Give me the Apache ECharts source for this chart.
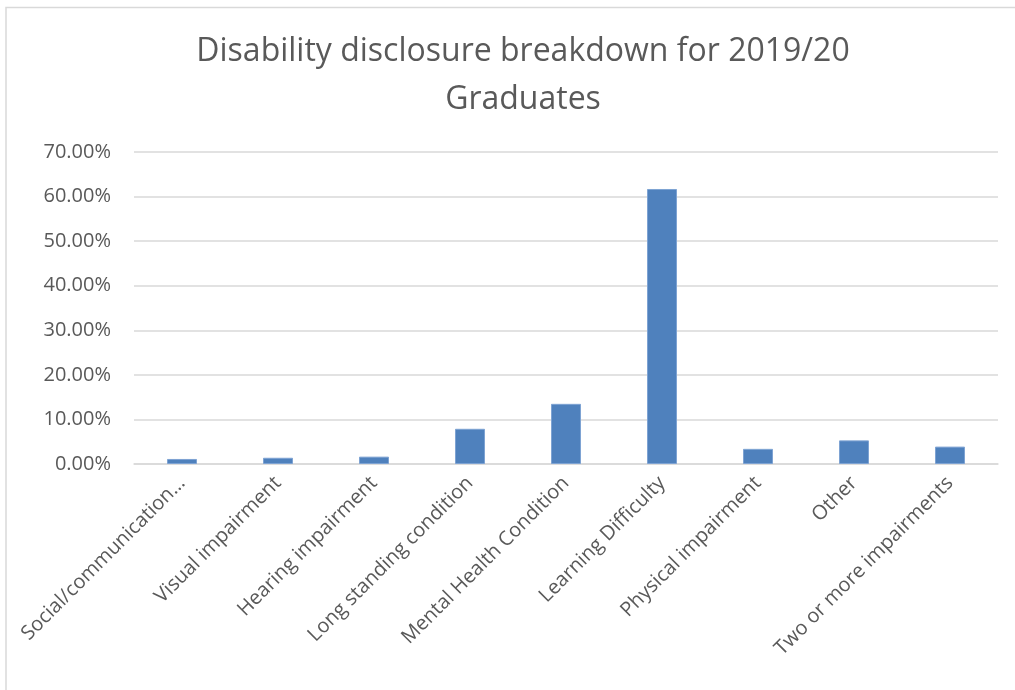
<!DOCTYPE html>
<html>
<head>
<meta charset="utf-8">
<script src="https://cdn.jsdelivr.net/npm/echarts@6/dist/echarts.min.js"></script>
<style>
  html, body { margin: 0; padding: 0; background: #ffffff; }
  #chart { width: 1015px; height: 690px; }
</style>
</head>
<body>
<div id="chart"></div>
<script>
// Disability types disclosed by 2019/20 graduates
const categories = [
  'Social/communication…',
  'Visual impairment',
  'Hearing impairment',
  'Long standing condition',
  'Mental Health Condition',
  'Learning Difficulty',
  'Physical impairment',
  'Other',
  'Two or more impairments'
];

// Share of disclosing graduates (fraction of 1)
const shares = [0.0113, 0.0140, 0.0165, 0.0790, 0.1350, 0.6170, 0.0340, 0.0530, 0.0390];

// Percentage axis ticks
const yMin = 0;
const yMax = 0.7;
const yStep = 0.1;

const textColor = '#595959';
const lineColor = '#d9d9d9';
const fontFamily = '"Open Sans", "Noto Sans", sans-serif';

const chart = echarts.init(document.getElementById('chart'), null, { renderer: 'canvas' });

chart.setOption({
  backgroundColor: '#ffffff',
  animation: false,
  textStyle: { fontFamily: fontFamily },
  title: {
    text: 'Disability disclosure breakdown for 2019/20\nGraduates',
    left: 518,
    top: 23,
    textAlign: 'center',
    textStyle: {
      fontFamily: fontFamily,
      fontSize: 32,
      fontWeight: 'normal',
      color: textColor,
      lineHeight: 48
    }
  },
  graphic: [{
    type: 'rect',
    silent: true,
    shape: { x: 6, y: 7.5, width: 1100, height: 800 },
    style: { fill: 'none', stroke: lineColor, lineWidth: 1.5 }
  }],
  grid: {
    left: 134,
    right: 17,
    top: 152,
    bottom: 226
  },
  xAxis: {
    type: 'category',
    data: categories,
    axisTick: { show: false },
    axisLine: { show: true, lineStyle: { color: lineColor, width: 1.5 } },
    axisLabel: {
      rotate: 45,
      interval: 0,
      margin: 16,
      fontSize: 20,
      color: textColor,
      fontFamily: fontFamily
    }
  },
  yAxis: {
    type: 'value',
    min: yMin,
    max: yMax,
    interval: yStep,
    axisLine: { show: false },
    axisTick: { show: false },
    splitLine: { lineStyle: { color: lineColor, width: 1.5 } },
    axisLabel: {
      margin: 23,
      fontSize: 20,
      color: textColor,
      fontFamily: fontFamily,
      formatter: v => (v * 100).toFixed(2) + '%'
    }
  },
  series: [{
    type: 'bar',
    data: shares,
    barWidth: 30,
    itemStyle: {
      color: '#4f81bd',
      borderColor: '#7ea3d3',
      borderWidth: 1
    }
  }]
});
</script>
</body>
</html>
